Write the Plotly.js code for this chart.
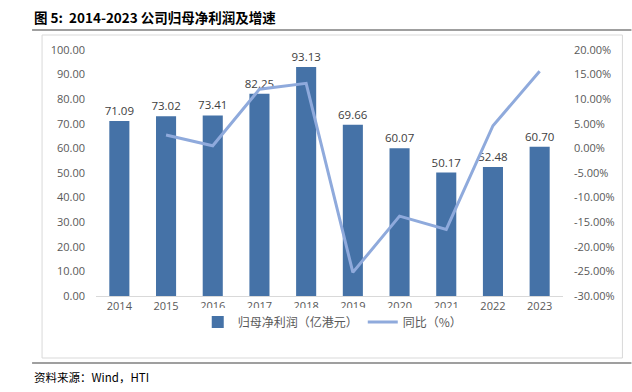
<!DOCTYPE html>
<html>
<head>
<meta charset="utf-8">
<script src="https://cdn.plot.ly/plotly-3.0.1.min.js"></script>
<style>html,body{margin:0;padding:0;background:#fff;}#chart{width:632px;height:392px;}</style>
</head>
<body>
<div id="chart"></div>
<script>
const years = ['2014','2015','2016','2017','2018','2019','2020','2021','2022','2023'];
const profit = [71.09, 73.02, 73.41, 82.25, 93.13, 69.66, 60.07, 50.17, 52.48, 60.70];
const growthYears = ['2015','2016','2017','2018','2019','2020','2021','2022','2023'];
const growth = [2.71, 0.53, 12.04, 13.23, -25.20, -13.77, -16.48, 4.61, 15.66];
const leftTicks = [0,10,20,30,40,50,60,70,80,90,100];
const rightTicks = [-30,-25,-20,-15,-10,-5,0,5,10,15,20];

const W = 632, H = 392;
const L = 96, R = 563.5, T = 50, B = 296;
const px = x => (x - L) / (R - L);
const py = y => (B - y) / (B - T);
const tickFont = {family: 'Open Sans, Noto Sans CJK SC, sans-serif', size: 11, color: '#595959'};

const traces = [
  {
    type: 'bar', x: years, y: profit, name: '归母净利润（亿港元）',
    marker: {color: '#4572A7'},
    text: profit.map(v => v.toFixed(2)), textposition: 'outside', cliponaxis: false,
    constraintext: 'none',
    textfont: {family: 'Open Sans, sans-serif', size: 11.5, color: '#404040'},
    hoverinfo: 'none'
  },
  {
    type: 'scatter', mode: 'lines', x: growthYears, y: growth, yaxis: 'y2', name: '同比（%）',
    line: {color: '#8FAADC', width: 3}, hoverinfo: 'none'
  }
];

const layout = {
  width: W, height: H,
  margin: {l: L, r: W - R, t: T, b: H - B, pad: 0},
  paper_bgcolor: '#fff', plot_bgcolor: '#fff',
  showlegend: true,
  bargap: 0.57,
  legend: {orientation: 'h', x: px(333), xanchor: 'center', y: py(322), yanchor: 'middle',
           font: {family: 'Noto Sans CJK SC, sans-serif', size: 12, color: '#595959'},
           itemwidth: 30, tracegroupgap: 0},
  xaxis: {type: 'category', range: [-0.5, 9.5], showgrid: false, zeroline: false,
          showline: true, linecolor: '#D9D9D9', linewidth: 1, ticks: '',
          tickfont: tickFont, fixedrange: true},
  yaxis: {range: [0, 100], tickvals: leftTicks, ticktext: leftTicks.map(v => v.toFixed(2)),
          showgrid: false, zeroline: false, showline: false, ticks: '', ticklabelstandoff: 10,
          tickfont: tickFont, fixedrange: true},
  yaxis2: {overlaying: 'y', side: 'right', range: [-30, 20], tickvals: rightTicks,
           ticktext: rightTicks.map(v => v.toFixed(2) + '%'),
           showgrid: false, zeroline: false, showline: false, ticks: '', ticklabelstandoff: 10,
           tickfont: tickFont, fixedrange: true},
  shapes: [
    {type: 'line', xref: 'paper', yref: 'paper', x0: px(32), x1: px(632), y0: py(30), y1: py(30),
     line: {color: '#404040', width: 1.2}},
    {type: 'rect', xref: 'paper', yref: 'paper', x0: px(42), x1: px(623), y0: py(35), y1: py(358),
     line: {color: '#D9D9D9', width: 1}, layer: 'below'},
    {type: 'line', xref: 'paper', yref: 'paper', x0: px(32), x1: px(632), y0: py(363), y1: py(363),
     line: {color: '#404040', width: 1.2}}
  ],
  annotations: [
    {xref: 'paper', yref: 'paper', x: px(32), y: py(17), xanchor: 'left', yanchor: 'middle',
     text: '<b>图 5:&nbsp;&nbsp;2014-2023 公司归母净利润及增速</b>', showarrow: false,
     font: {family: 'Noto Sans CJK SC, sans-serif', size: 13.5, color: '#000'}},
    {xref: 'paper', yref: 'paper', x: px(32), y: py(377), xanchor: 'left', yanchor: 'middle',
     text: '资料来源：Wind，HTI', showarrow: false,
     font: {family: 'Noto Sans CJK SC, sans-serif', size: 11.5, color: '#000'}}
  ]
};

Plotly.newPlot('chart', traces, layout, {staticPlot: true, displayModeBar: false});
</script>
</body>
</html>
